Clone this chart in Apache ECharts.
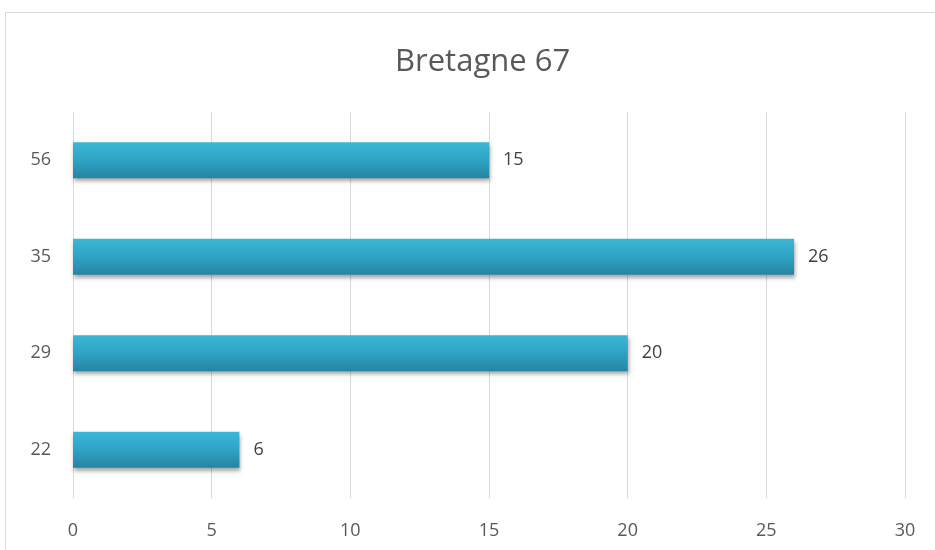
<!DOCTYPE html>
<html><head><meta charset="utf-8">
<script src="https://cdn.jsdelivr.net/npm/echarts@6/dist/echarts.min.js"></script>
<style>html,body{margin:0;padding:0;background:#fff}#c{width:935px;height:550px}</style>
</head><body><div id="c"></div>
<script>
const categories = ['22', '29', '35', '56'];
const values = [6, 20, 26, 15];
const xTicks = [0, 5, 10, 15, 20, 25, 30];
const titleText = 'Bretagne 67';

const chart = echarts.init(document.getElementById('c'), null, {renderer: 'canvas'});
const font = '"Open Sans", "Noto Sans", sans-serif';
chart.setOption({
  animation: false,
  backgroundColor: '#fff',
  graphic: [{type: 'rect', shape: {x: 5.5, y: 12.5, width: 940, height: 550}, style: {fill: 'none', stroke: '#d9d9d9', lineWidth: 1}}],
  title: {text: titleText, left: 390, top: 42, textStyle: {fontFamily: font, fontSize: 31, fontWeight: 'normal', color: '#595959'}},
  grid: {left: 73, right: 30, top: 112, bottom: 52},
  xAxis: {type: 'value', min: xTicks[0], max: xTicks[xTicks.length - 1], interval: 5,
    axisLine: {show: false}, axisTick: {show: false},
    splitLine: {lineStyle: {color: '#d9d9d9', width: 1}},
    axisLabel: {fontFamily: font, fontSize: 18, color: '#595959', margin: 24}},
  yAxis: {type: 'category', data: categories,
    axisLine: {show: false}, axisTick: {show: false},
    axisLabel: {fontFamily: font, fontSize: 18, color: '#595959', margin: 22}},
  series: [{type: 'bar', data: values, barWidth: 36,
    itemStyle: {color: new echarts.graphic.LinearGradient(0, 0, 0, 1, [
      {offset: 0, color: '#3bb7d8'}, {offset: 0.5, color: '#2fa3c4'}, {offset: 1, color: '#2585a2'}]),
      shadowColor: 'rgba(0,0,0,0.35)', shadowBlur: 4, shadowOffsetY: 3, shadowOffsetX: 1},
    label: {show: true, position: 'right', distance: 14, fontFamily: font, fontSize: 18, color: '#404040'}}]
});
</script></body></html>
